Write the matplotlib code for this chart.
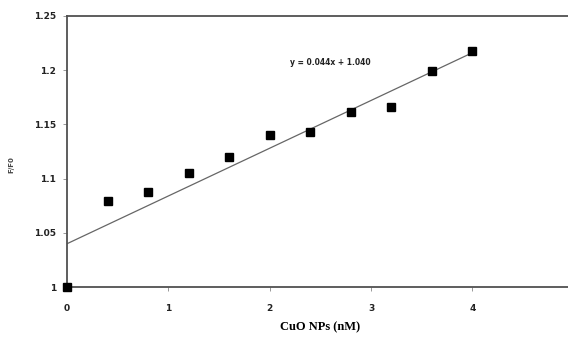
import matplotlib.pyplot as plt
import numpy as np
from matplotlib.ticker import FuncFormatter

# data
conc = [0, 0.4, 0.8, 1.2, 1.6, 2.0, 2.4, 2.8, 3.2, 3.6, 4.0]
ratio = [1.000, 1.079, 1.088, 1.105, 1.120, 1.140, 1.143, 1.161, 1.166, 1.199, 1.218]
slope = 0.044
intercept = 1.040
x_ticks = [0, 1, 2, 3, 4]
y_ticks = [1, 1.05, 1.1, 1.15, 1.2, 1.25]

fig = plt.figure(figsize=(5.68, 3.37), dpi=100)
ax = fig.add_axes([0.118, 0.148, 0.892, 0.805])

# trend line
xf = np.array([0, 4.0])
ax.plot(xf, slope * xf + intercept, color='#666666', lw=0.9, zorder=2)
ax.plot(conc, ratio, 's', color='black', markersize=6.3, zorder=3, clip_on=False)

ax.set_xlim(0, 5)
ax.set_ylim(1, 1.25)
ax.set_xticks(x_ticks)
ax.set_yticks(y_ticks)
ax.yaxis.set_major_formatter(FuncFormatter(lambda v, p: '%g' % v))

for s in ['left', 'bottom', 'top']:
    ax.spines[s].set_color('#505050')
    ax.spines[s].set_linewidth(1.3)
ax.spines['right'].set_visible(False)

ax.tick_params(axis='both', length=3, width=0.6, color='#888888', labelsize=6.5)
ax.tick_params(axis='y', pad=5)
ax.tick_params(axis='x', pad=9)
for lab in ax.get_xticklabels() + ax.get_yticklabels():
    lab.set_fontweight('bold')
    lab.set_color('#222222')

ax.set_xlabel('CuO NPs (nM)', family='Liberation Serif', fontweight='bold', fontsize=9, labelpad=6)
ax.set_ylabel('F/F0', fontsize=5, fontweight='bold', color='#444444')
ax.yaxis.set_label_coords(-0.104, 0.45)

ax.text(2.2, 1.2066, 'y = 0.044x + 1.040', fontsize=5.5, fontweight='bold', color='#222222', va='center')

plt.savefig('out.png', dpi=100)
plt.close(fig)
